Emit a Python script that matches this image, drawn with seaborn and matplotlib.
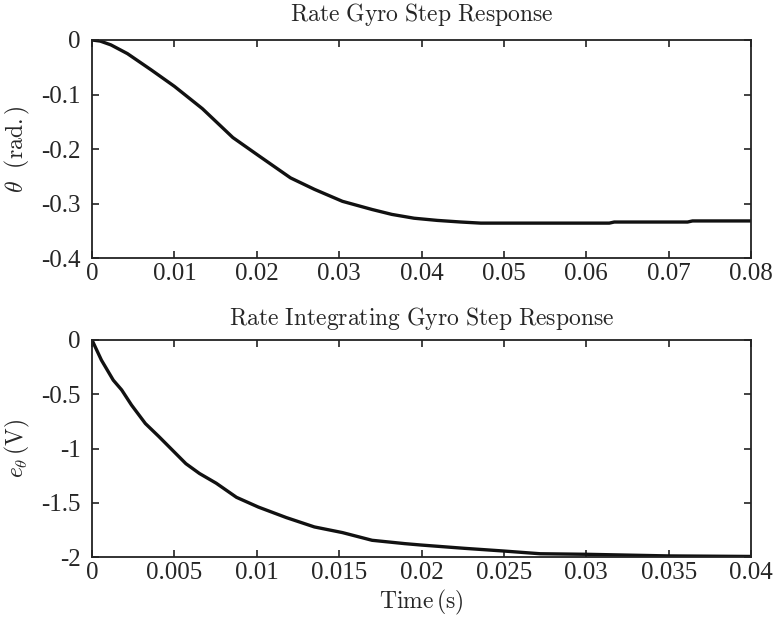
import numpy as np
import pandas as pd
import matplotlib
matplotlib.use("Agg")
import matplotlib.pyplot as plt
from matplotlib.ticker import FuncFormatter
import seaborn as sns

# Rate gyro step response
t_rate = [0.0, 0.0010, 0.0023, 0.0043, 0.0072, 0.0100, 0.0134, 0.0171, 0.0203,
          0.0241, 0.0270, 0.0304, 0.0340, 0.0364, 0.0391, 0.0419, 0.0448,
          0.0472, 0.0628, 0.0634, 0.0723, 0.0729, 0.0800]
theta = [0.0, -0.002, -0.009, -0.025, -0.055, -0.085, -0.126, -0.179, -0.213,
         -0.253, -0.274, -0.296, -0.311, -0.320, -0.327, -0.331, -0.334,
         -0.336, -0.336, -0.334, -0.334, -0.332, -0.332]

# Rate integrating gyro step response
t_int = [0.0, 0.00057, 0.00129, 0.0018, 0.0024, 0.00324, 0.00406, 0.00488,
         0.0057, 0.00652, 0.00754, 0.00877, 0.0101, 0.0118, 0.0135,
         0.0152, 0.0170, 0.0190, 0.0200, 0.0226, 0.0250, 0.0272, 0.0300,
         0.0350, 0.0400]
e_theta = [0.0, -0.185, -0.37, -0.46, -0.6, -0.77, -0.89, -1.015, -1.14,
           -1.23, -1.32, -1.45, -1.54, -1.637, -1.723, -1.775, -1.846,
           -1.877, -1.89, -1.92, -1.945, -1.97, -1.975, -1.99, -1.995]

rate_ticks_x = [0, 0.01, 0.02, 0.03, 0.04, 0.05, 0.06, 0.07, 0.08]
rate_ticks_y = [-0.4, -0.3, -0.2, -0.1, 0]
int_ticks_x = [0, 0.005, 0.01, 0.015, 0.02, 0.025, 0.03, 0.035, 0.04]
int_ticks_y = [-2, -1.5, -1, -0.5, 0]

sns.set_style("ticks")
plt.rcParams["font.family"] = ["Liberation Serif", "DejaVu Serif"]
plt.rcParams["mathtext.fontset"] = "cm"
plt.rcParams["axes.unicode_minus"] = False

fmt = FuncFormatter(lambda v, p: "%g" % v)
LINE = "#111111"


def style_axes(ax, xt, yt):
    ax.set_xticks(xt)
    ax.set_yticks(yt)
    ax.xaxis.set_major_formatter(fmt)
    ax.yaxis.set_major_formatter(fmt)
    ax.tick_params(direction="in", top=True, right=True, length=5, width=1.2,
                   labelsize=18, color="#222222")
    ax.tick_params(axis="x", pad=3.5)
    ax.tick_params(axis="y", pad=8)
    for s in ax.spines.values():
        s.set_linewidth(1.3)
        s.set_color("#222222")
    # y label sits with its right edge ~60 px left of the axis
    ax.yaxis.set_label_coords(-60 / 659, 0.5)


fig = plt.figure(figsize=(7.77, 6.22), dpi=100)
ax1 = fig.add_axes([92 / 777, 1 - 258 / 622, 659 / 777, 218 / 622])
ax2 = fig.add_axes([92 / 777, 1 - 557 / 622, 659 / 777, 217 / 622])

df1 = pd.DataFrame({"t": t_rate, "theta": theta})
sns.lineplot(data=df1, x="t", y="theta", ax=ax1, color=LINE, linewidth=2.4)
ax1.set_xlim(0, 0.08)
ax1.set_ylim(-0.4, 0)
style_axes(ax1, rate_ticks_x, rate_ticks_y)
ax1.set_xlabel("")
ax1.set_ylabel(r"$\theta\ \ (\mathrm{rad.})$", fontsize=17)
ax1.set_title(r"$\mathrm{Rate\ Gyro\ Step\ Response}$", fontsize=17, pad=14)

df2 = pd.DataFrame({"t": t_int, "e": e_theta})
sns.lineplot(data=df2, x="t", y="e", ax=ax2, color=LINE, linewidth=2.4)
ax2.set_xlim(0, 0.04)
ax2.set_ylim(-2, 0)
style_axes(ax2, int_ticks_x, int_ticks_y)
ax2.set_xlabel(r"$\mathrm{Time\,(s)}$", fontsize=17, labelpad=3)
ax2.set_ylabel(r"$e_{\theta}\,(\mathrm{V})$", fontsize=17)
ax2.set_title(r"$\mathrm{Rate\ Integrating\ Gyro\ Step\ Response}$",
              fontsize=17, pad=11)

fig.savefig("out.png", dpi=100)
